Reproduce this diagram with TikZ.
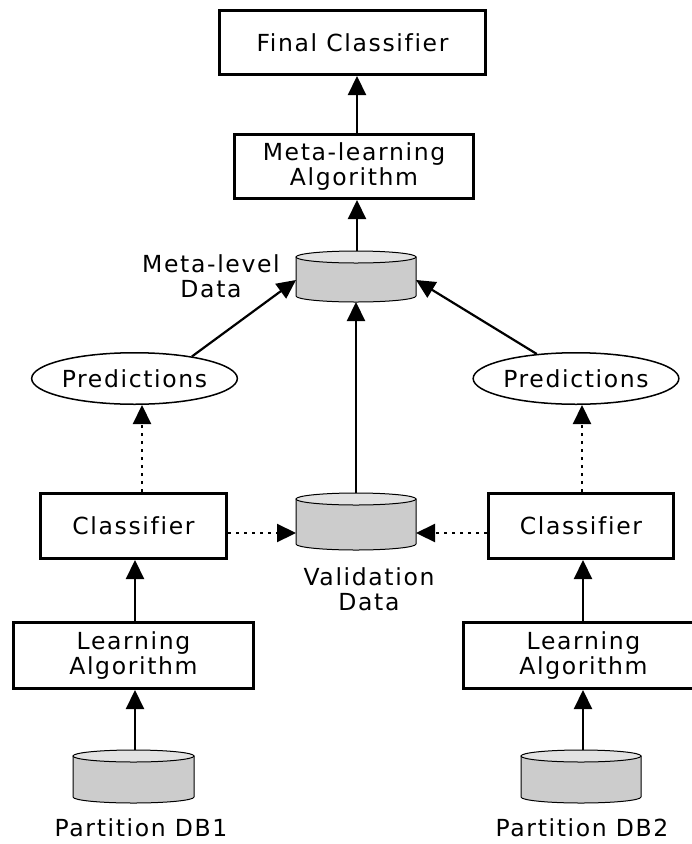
\documentclass[tikz,border=0pt]{standalone}
\usepackage{fontspec}
\setmainfont{DejaVu Sans}[LetterSpace=7,Ligatures=NoCommon]
\usetikzlibrary{arrows.meta,calc,shapes.geometric}
\definecolor{cylbody}{HTML}{CCCCCC}
\definecolor{cyltop}{HTML}{E2E2E2}
\newcommand\mkcyl[5]{%
  \filldraw[fill=cylbody,draw=black,line width=1pt] ({#2-#5},#3) -- ({#2-#5},#4)
     arc[start angle=180,end angle=360,x radius=#5pt,y radius=6pt] -- ({#2+#5},#3) -- cycle;
  \filldraw[fill=cyltop,draw=black,line width=1pt] (#2,#3) ellipse[x radius=#5pt,y radius=6pt];
  \node[inner sep=0pt,outer sep=0pt,minimum width={2*#5*1pt},minimum height={(#4-#3+12)*1pt}] (#1) at (#2,{(#3+#4)/2}) {};
}
\begin{document}
\begin{tikzpicture}[x=1pt,y=-1pt,
  txt/.style={font=\fontsize{23.5}{25}\selectfont},
  box/.style={txt,draw,line width=3pt,rectangle,inner sep=0pt,align=center},
  pred/.style={txt,draw,line width=1.5pt,ellipse,inner sep=0pt,minimum width=191.5pt,minimum height=51.5pt},
  lbl/.style={txt,align=center,inner sep=0pt},
  arr/.style={line width=2.2pt,-{Triangle[length=19pt,width=18pt]}},
  dotarr/.style={line width=2.2pt,dash pattern=on 3pt off 5pt,-{Triangle[length=19pt,width=18pt]}}]
\useasboundingbox (0,0) rectangle (692,844);
\fill[white] (0,0) rectangle (692,844);

% cylinders
\mkcyl{MD}{356}{257}{296}{60}
\mkcyl{VD}{356}{499}{544}{60}
\mkcyl{DBa}{133.5}{756}{797}{60.5}
\mkcyl{DBb}{581}{756}{797}{60}

% boxes
\node[box,minimum width=266pt,minimum height=64pt] (FC) at (352.5,42.5) {Final Classifier};
\node[box,minimum width=239pt,minimum height=64pt] (ML) at (354,166.5) {Meta-learning\\Algorithm};
\node[box,minimum width=186pt,minimum height=65pt] (LC) at (133.5,526) {Classifier};
\node[box,minimum width=185pt,minimum height=65pt] (RC) at (581,526) {Classifier};
\node[box,minimum width=240pt,minimum height=66pt] (LLA) at (133.5,655.5) {Learning\\Algorithm};
\node[box,minimum width=240pt,minimum height=66pt] (RLA) at (583.5,655.5) {Learning\\Algorithm};

% predictions
\node[pred] (LP) at (134.5,378.5) {Predictions};
\node[pred,minimum width=192.5pt] (RP) at (576,378.5) {Predictions};

% labels
\node[lbl] (MDl) at (211,276) {Meta-level\\Data};
\node[lbl] (VDl) at (369,589) {Validation\\Data};
\node[lbl] (P1) at (141,828) {Partition DB1};
\node[lbl] (P2) at (582,828) {Partition DB2};

% connectors
\coordinate (ax) at (357,0);
\coordinate (vx) at (356,0);
\coordinate (lx) at (142,0);
\coordinate (rx) at (582,0);
\coordinate (hy) at (0,533);
\coordinate (l2) at (135,0);
\coordinate (r2) at (583,0);
\draw[arr] (ML.north -| ax) -- (FC.south -| ax);
\draw[arr] (MD.north -| ax) -- (ML.south -| ax);
\draw[arr] (VD.north -| vx) -- (MD.south -| vx);
\draw[arr] (LP.21) -- ([yshift=-3.5pt]MD.west);
\draw[arr] (RP.148) -- ([yshift=-3.5pt]MD.east);
\draw[dotarr] (LC.north -| lx) -- (LP.south -| lx);
\draw[dotarr] (RC.north -| rx) -- (RP.south -| rx);
\draw[dotarr] (LC.east |- hy) -- (VD.west |- hy);
\draw[dotarr] (RC.west |- hy) -- (VD.east |- hy);
\draw[arr] (LLA.north -| l2) -- (LC.south -| l2);
\draw[arr] (DBa.north -| l2) -- (LLA.south -| l2);
\draw[arr] (RLA.north -| r2) -- (RC.south -| r2);
\draw[arr] (DBb.north -| r2) -- (RLA.south -| r2);
\end{tikzpicture}
\end{document}
